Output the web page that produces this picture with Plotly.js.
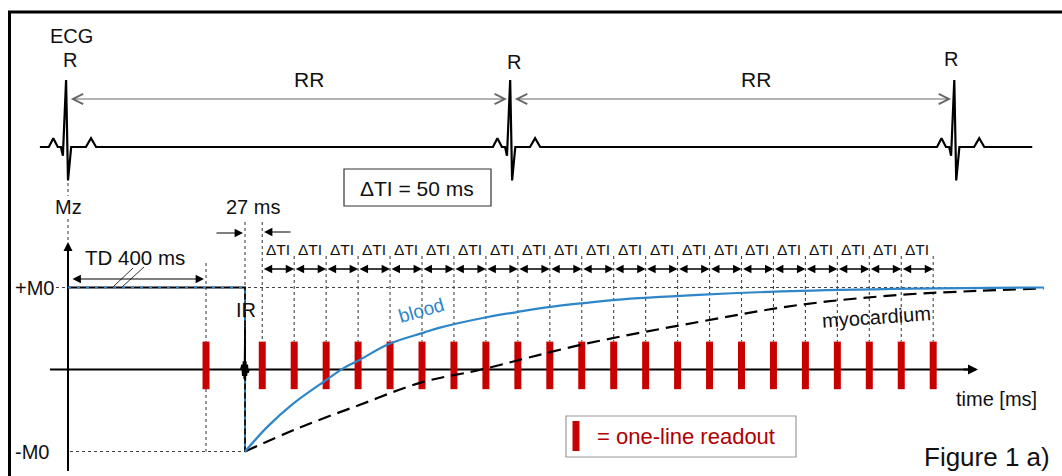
<!DOCTYPE html>
<html><head><meta charset="utf-8">
<script src="https://cdn.plot.ly/plotly-3.0.1.min.js"></script>
<style>html,body{margin:0;padding:0;background:#fff;} #chart{width:1062px;height:476px;}</style>
</head><body><div id="chart"></div>
<script>
// ---------------- data (schematic time axis in ms, inversion pulse at 0; Mz in units of M0) ----------------
const rWaveTimes = [-280, 415, 1110];
const ecgOffsets = [-27, -20, -13, -8, -5, 0, 3, 8, 31, 39, 47];
const ecgAmps    = [0, 0.13, 0, 0, -0.13, 1.0, -0.5, 0, 0, 0.13, 0];
const ecgStart = -321, ecgEnd = 1232;

const tdReadoutTime = [-61];
const tiTimes = [27, 77, 127, 177, 227, 277, 327, 377, 427, 477, 527, 577, 627, 677, 727, 777, 827, 877, 927, 977, 1027, 1077];
const tiLabel = 'ΔTI';

const preIRT  = [-277, 0, 0];
const preIRMz = [1, 1, -1];

const bloodT  = [0, 35, 75, 125, 155, 180, 225, 280, 305, 380, 425, 475, 530, 580, 710, 870, 1080, 1250];
const bloodMz = [-1, -0.70, -0.42, -0.14, 0.02, 0.12, 0.31, 0.45, 0.51, 0.64, 0.70, 0.76, 0.81, 0.85, 0.91, 0.96, 0.99, 1.0];

const myoT  = [0, 85, 180, 275, 370, 525, 710, 870, 1025, 1150, 1250];
const myoMz = [-1, -0.71, -0.43, -0.16, 0.0, 0.30, 0.58, 0.79, 0.91, 0.96, 0.99];

const irOffsets = [-11, -8, -6, -4, -2, -1, 0, 1, 2, 4, 6, 8, 11];
const irAmps    = [0, 0.06, -0.08, 0.1, -0.12, 0.05, 0.52, -0.14, 0.1, -0.08, 0.06, -0.04, 0];

// ---------------- layout helpers (pixel -> axis units) ----------------
const PXMS = 0.639, X0 = 245;
const X = px => (px - X0) / PXMS;
const Y = py => (369.5 - py) / 82;
const FONT = "Arial, 'Liberation Sans', sans-serif";
const BLUE = '#2e86c8', RED = '#c80000', DARKRED = '#b00000', GRAY = '#555';

// ---------------- traces ----------------
const traces = [];

// ECG
const ecgX = [ecgStart], ecgY = [0];
rWaveTimes.forEach(r => { ecgOffsets.forEach((o, i) => { ecgX.push(r + o); ecgY.push(ecgAmps[i]); }); });
ecgX.push(ecgEnd); ecgY.push(0);
traces.push({x: ecgX, y: ecgY, yaxis: 'y2', mode: 'lines', line: {color: '#000', width: 2.2}, hoverinfo: 'skip'});

// axes lines (Mz axis and time axis)
traces.push({x: [X(68), X(68)], y: [Y(471), Y(250)], mode: 'lines', line: {color: '#000', width: 2}, hoverinfo: 'skip'});
traces.push({x: [X(50), X(970)], y: [0, 0], mode: 'lines', line: {color: '#000', width: 2}, hoverinfo: 'skip'});

// dashed reference lines
const dx = [], dy = [];
function seg(x1, y1, x2, y2) { dx.push(x1, x2, null); dy.push(y1, y2, null); }
seg(X(68), Y(183), X(68), Y(196));
seg(X(68), Y(219), X(68), Y(243));
seg(X(56), 1, X(1045), 1);
seg(X(70), -1, 0, -1);
seg(0, Y(222), 0, 1);
seg(tdReadoutTime[0], Y(263), tdReadoutTime[0], -1);
tiTimes.forEach((t, i) => seg(t, i === 0 ? Y(222) : Y(256), t, 0.34));
traces.push({x: dx, y: dy, mode: 'lines', line: {color: '#444', width: 1.1, dash: '3px,3px'}, hoverinfo: 'skip', connectgaps: false});

// readouts
const rx = [], ry = [];
tdReadoutTime.concat(tiTimes).forEach(t => { rx.push(t, t, null); ry.push(-0.24, 0.34, null); });
traces.push({x: rx, y: ry, mode: 'lines', line: {color: RED, width: 7}, hoverinfo: 'skip'});

// pre-IR magnetization (+M0) and inversion jump
traces.push({x: preIRT, y: preIRMz, mode: 'lines', line: {color: '#000', width: 1.8}, hoverinfo: 'skip'});
traces.push({x: preIRT, y: preIRMz, mode: 'lines', line: {color: BLUE, width: 1.8, dash: '3px,6px'}, hoverinfo: 'skip'});

// IR pulse
traces.push({x: irOffsets.map(o => o * 0.6), y: irAmps, mode: 'lines', line: {color: '#000', width: 1.5}, hoverinfo: 'skip'});

// recovery curves
traces.push({x: myoT, y: myoMz, mode: 'lines', line: {color: '#000', width: 2.2, dash: '13px,7px', shape: 'spline'}, hoverinfo: 'skip'});
traces.push({x: bloodT, y: bloodMz, mode: 'lines', line: {color: BLUE, width: 2.2, shape: 'spline'}, hoverinfo: 'skip'});

// ---------------- annotations ----------------
const ann = [];
function txt(px, py, text, size, extra) {
  ann.push(Object.assign({x: X(px), y: Y(py), xref: 'x', yref: 'y', text: text, showarrow: false,
    font: {family: FONT, size: size, color: '#111'}}, extra || {}));
}
function arrow(x1, y1, x2, y2, opts) {
  ann.push(Object.assign({x: x2, y: y2, ax: x1, ay: y1, xref: 'x', yref: 'y', axref: 'x', ayref: 'y',
    text: '', showarrow: true, arrowhead: 2, arrowsize: 1.3, arrowwidth: 1.2, arrowcolor: '#000',
    standoff: 0, startstandoff: 0}, opts || {}));
}

txt(71, 36, 'ECG', 20);
txt(70, 60, 'R', 20); txt(514, 62, 'R', 20); txt(951, 59, 'R', 20);
txt(309, 79, 'RR', 21); txt(756, 79, 'RR', 21);
// RR arrows between R waves
for (let i = 0; i < rWaveTimes.length - 1; i++) {
  arrow(rWaveTimes[i] + 5, Y(99), rWaveTimes[i + 1] - 5, Y(99),
    {arrowside: 'end+start', arrowhead: 5, startarrowhead: 5, arrowsize: 2, startarrowsize: 2, arrowwidth: 1, arrowcolor: '#666'});
}
txt(417, 188, 'ΔTI = 50 ms', 21);
txt(68, 207, 'Mz', 20);
txt(253, 207, '27 ms', 20);
arrow(X(215), Y(233), X(243), Y(233), {arrowsize: 1.4});
arrow(X(292), Y(232), X(264), Y(232), {arrowsize: 1.4});
txt(135, 257, 'TD 400 ms', 20.5);
arrow(X(71), Y(279), X(204), Y(279), {arrowside: 'end+start', startarrowhead: 2, arrowsize: 1.4, startarrowsize: 1.4});
// ΔTI intervals
for (let i = 0; i < tiTimes.length - 1; i++) {
  arrow(tiTimes[i], Y(269), tiTimes[i + 1], Y(269), {arrowside: 'end+start', startarrowhead: 2, arrowsize: 1.3, startarrowsize: 1.3, arrowwidth: 1.3});
  ann.push({x: (tiTimes[i] + tiTimes[i + 1]) / 2, y: Y(249), xref: 'x', yref: 'y', text: tiLabel, showarrow: false,
    font: {family: FONT, size: 15.5, color: '#111'}});
}
// axis arrowheads
arrow(X(68), Y(256), X(68), Y(242), {arrowwidth: 1.8, arrowsize: 1});
arrow(X(962), 0, X(978), 0, {arrowwidth: 2, arrowsize: 1});

txt(34, 288, '+M0', 20);
txt(32, 452, '-M0', 20);
txt(246, 310, 'IR', 20);
txt(421, 310, 'blood', 19, {textangle: -16, font: {family: FONT, size: 19, color: BLUE}});
txt(876, 317, 'myocardium', 20, {textangle: -4});
txt(996, 399, 'time [ms]', 20);
txt(686, 436, '= one-line readout', 22, {font: {family: FONT, size: 22, color: DARKRED}});
txt(987, 457, 'Figure 1 a)', 26);

// ---------------- shapes ----------------
const P = (px) => px / 1062, Q = (py) => 1 - py / 476;
const shapes = [
  {type: 'line', xref: 'paper', yref: 'paper', x0: P(8), y0: Q(12), x1: P(1062), y1: Q(12), line: {color: '#000', width: 3}},
  {type: 'line', xref: 'paper', yref: 'paper', x0: P(9.5), y0: Q(11), x1: P(9.5), y1: Q(476), line: {color: '#000', width: 3}},
  {type: 'rect', xref: 'x', yref: 'y', x0: X(344), y0: Y(169), x1: X(491), y1: Y(206), line: {color: '#333', width: 1.2}, fillcolor: 'rgba(0,0,0,0)'},
  {type: 'rect', xref: 'x', yref: 'y', x0: X(566), y0: Y(416), x1: X(796), y1: Y(457), line: {color: '#999', width: 1.2}, fillcolor: 'rgba(0,0,0,0)'},
  {type: 'line', xref: 'x', yref: 'y', x0: X(576), y0: Y(421), x1: X(576), y1: Y(451), line: {color: RED, width: 7}},
  {type: 'line', xref: 'x', yref: 'y', x0: X(113), y0: Y(287), x1: X(133), y1: Y(268), line: {color: '#333', width: 1}},
  {type: 'line', xref: 'x', yref: 'y', x0: X(122), y0: Y(287), x1: X(144), y1: Y(267), line: {color: '#333', width: 1}}
];

const layout = {
  width: 1062, height: 476, autosize: false,
  margin: {l: 0, r: 0, t: 0, b: 0, pad: 0},
  paper_bgcolor: '#fff', plot_bgcolor: '#fff',
  showlegend: false,
  xaxis: {range: [X(0), X(1062)], visible: false, fixedrange: true},
  yaxis: {range: [Y(476), Y(0)], visible: false, fixedrange: true},
  yaxis2: {range: [(147 - 476) / 67, 147 / 67], overlaying: 'y', visible: false, fixedrange: true},
  annotations: ann,
  shapes: shapes,
  font: {family: FONT}
};
Plotly.newPlot('chart', traces, layout, {staticPlot: true, displayModeBar: false});
</script>
</body></html>
